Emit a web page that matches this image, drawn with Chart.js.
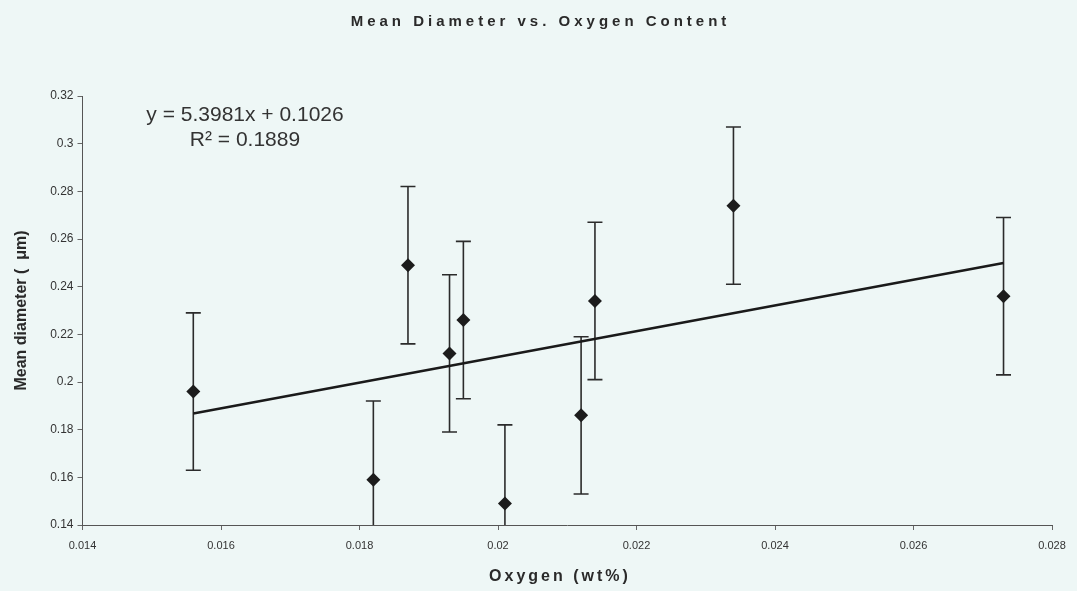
<!DOCTYPE html>
<html>
<head>
<meta charset="utf-8">
<script src="https://cdn.jsdelivr.net/npm/chart.js@4.4.1/dist/chart.umd.min.js"></script>
<style>
  html, body { margin: 0; padding: 0; background: #eef7f6; }
  #wrap { width: 1077px; height: 591px; }
</style>
</head>
<body>
<div id="wrap"><canvas id="diameterChart" width="1077" height="591"></canvas></div>
<script>
// Oxygen content (wt%) vs mean particle diameter (um), with +/- error
const oxygen   = [0.0156, 0.0182, 0.0187, 0.0193, 0.0195, 0.0201, 0.0212, 0.0214, 0.0234, 0.0273];
const diameter = [0.196, 0.159, 0.249, 0.212, 0.226, 0.149, 0.186, 0.234, 0.274, 0.236];
const diamErr  = [0.033, 0.033, 0.033, 0.033, 0.033, 0.033, 0.033, 0.033, 0.033, 0.033];

// linear trendline
const slope = 5.3981;
const intercept = 0.1026;
const rSquared = 0.1889;

const xTicks = ['0.014', '0.016', '0.018', '0.02', '0.022', '0.024', '0.026', '0.028'];
const yTicks = ['0.14', '0.16', '0.18', '0.2', '0.22', '0.24', '0.26', '0.28', '0.3', '0.32'];

const FONT = "'Liberation Sans', Arial, sans-serif";
const INK = '#2b2b2b';
Chart.defaults.font.family = FONT;
Chart.defaults.color = '#333';

const points = oxygen.map((x, i) => ({ x, y: diameter[i] }));
const xMin = Math.min(...oxygen), xMax = Math.max(...oxygen);
const fitLine = [xMin, xMax].map(x => ({ x, y: slope * x + intercept }));

// vertical error bars with caps, clipped to the plot area
const errorBars = {
  id: 'errorBars',
  beforeDatasetsDraw(chart) {
    const { ctx, chartArea: a, scales: { x, y } } = chart;
    ctx.save();
    ctx.beginPath();
    ctx.rect(a.left, a.top, a.right - a.left, a.bottom - a.top);
    ctx.clip();
    ctx.strokeStyle = INK;
    ctx.lineWidth = 1.6;
    oxygen.forEach((ox, i) => {
      const px = x.getPixelForValue(ox);
      const top = y.getPixelForValue(diameter[i] + diamErr[i]);
      const bot = y.getPixelForValue(diameter[i] - diamErr[i]);
      ctx.beginPath();
      ctx.moveTo(px, top); ctx.lineTo(px, bot);
      ctx.moveTo(px - 7.5, top); ctx.lineTo(px + 7.5, top);
      ctx.moveTo(px - 7.5, bot); ctx.lineTo(px + 7.5, bot);
      ctx.stroke();
    });
    ctx.restore();
  }
};

// chart title, x-axis title and fit equation
const chartText = {
  id: 'chartText',
  afterDraw(chart) {
    const { ctx } = chart;
    ctx.save();
    ctx.fillStyle = '#2a2a2a';
    ctx.textAlign = 'center';
    ctx.textBaseline = 'middle';

    ctx.font = 'bold 15px ' + FONT;
    ctx.letterSpacing = '4px';
    ctx.fillText('Mean Diameter vs. Oxygen Content', chart.width / 2 + 2, 22);

    ctx.font = 'bold 16px ' + FONT;
    ctx.letterSpacing = '3px';
    ctx.fillText('Oxygen (wt%)', 560, 577);

    ctx.letterSpacing = '0px';
    ctx.font = '21px ' + FONT;
    ctx.fillStyle = '#333';
    ctx.fillText('y = ' + slope + 'x + ' + intercept, 245, 115);
    ctx.fillText('R\u00B2 = ' + rSquared, 245, 140);
    ctx.restore();
  }
};

new Chart(document.getElementById('diameterChart'), {
  type: 'scatter',
  data: {
    datasets: [
      {
        label: 'Mean diameter',
        data: points,
        pointStyle: 'rectRot',
        pointRadius: 7,
        backgroundColor: '#1c1c1c',
        borderWidth: 0
      },
      {
        label: 'Linear fit',
        type: 'line',
        data: fitLine,
        borderColor: '#1a1a1a',
        borderWidth: 2.6,
        pointRadius: 0,
        fill: false
      }
    ]
  },
  options: {
    responsive: false,
    animation: false,
    layout: { padding: { top: 96, right: 25, bottom: 0, left: 0 } },
    plugins: { legend: { display: false }, tooltip: { enabled: false } },
    scales: {
      x: {
        type: 'linear',
        min: 0.014,
        max: 0.028,
        afterBuildTicks: s => { s.ticks = xTicks.map(t => ({ value: parseFloat(t) })); },
        afterFit: s => { s.height = 66; },
        ticks: {
          callback: (v, i) => xTicks[i],
          font: { size: 11 },
          color: '#333',
          padding: 9,
          maxRotation: 0
        },
        grid: { drawOnChartArea: false, tickLength: 5, color: '#666' },
        border: { color: '#555', width: 1 }
      },
      y: {
        min: 0.14,
        max: 0.32,
        afterBuildTicks: s => { s.ticks = yTicks.map(t => ({ value: parseFloat(t) })); },
        afterFit: s => { s.width = 82.5; },
        ticks: {
          callback: (v, i) => yTicks[i],
          font: { size: 12 },
          color: '#333',
          padding: 4
        },
        grid: { drawOnChartArea: false, tickLength: 5, color: '#666' },
        border: { color: '#555', width: 1 },
        title: {
          display: true,
          text: 'Mean diameter (  \u03BCm)',
          font: { size: 16, weight: 'bold' },
          color: '#2a2a2a',
          padding: { top: 12, bottom: 0 }
        }
      }
    }
  },
  plugins: [errorBars, chartText]
});
</script>
</body>
</html>
